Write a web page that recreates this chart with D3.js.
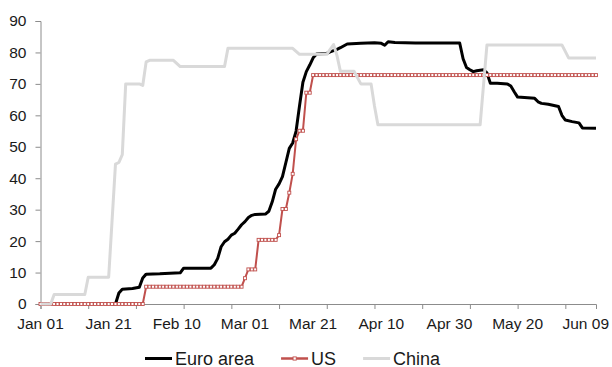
<!DOCTYPE html>
<html>
<head>
<meta charset="utf-8">
<script src="https://cdn.jsdelivr.net/npm/d3@7"></script>
<style>
  body { margin: 0; background: #fff; }
  svg { display: block; font-family: "Liberation Sans", Arial, sans-serif; }
  .tick-label { font-size: 15.5px; fill: #1a1a1a; }
  .legend-text { font-size: 18px; fill: #1a1a1a; }
</style>
</head>
<body>
<div id="chart"></div>
<script>
// values, dates are 2020 (MM-DD)
const euroArea = [
  ["01-22", 0], ["01-23", 0], ["01-24", 3.5], ["01-25", 4.7], ["01-28", 4.9], ["01-30", 5.3],
  ["01-31", 8.3], ["02-01", 9.5], ["02-05", 9.6], ["02-11", 9.9], ["02-12", 11.4], ["02-20", 11.4],
  ["02-21", 12.5], ["02-22", 14.5], ["02-23", 18.2], ["02-24", 19.8], ["02-25", 20.6], ["02-26", 21.9],
  ["02-27", 22.5], ["02-28", 23.8], ["02-29", 25.2], ["03-01", 26.2], ["03-02", 27.5], ["03-03", 28.2],
  ["03-04", 28.5], ["03-07", 28.6], ["03-08", 29.5], ["03-09", 32.5], ["03-10", 36.5], ["03-11", 38.2],
  ["03-12", 40.5], ["03-13", 45], ["03-14", 49.5], ["03-15", 51.2], ["03-16", 55], ["03-17", 63],
  ["03-18", 70.5], ["03-19", 73.9], ["03-20", 76], ["03-21", 78.3], ["03-22", 79.5], ["03-25", 79.7],
  ["03-26", 80.2], ["03-28", 81], ["03-29", 81.5], ["03-31", 82.7], ["04-04", 82.9], ["04-08", 83.1],
  ["04-10", 82.9], ["04-11", 82.3], ["04-12", 83.4], ["04-14", 83.2], ["04-20", 83], ["05-03", 83],
  ["05-04", 78], ["05-05", 75.2], ["05-06", 74.5], ["05-07", 73.9], ["05-08", 74.2], ["05-10", 74.5],
  ["05-11", 73.5], ["05-12", 70.2], ["05-14", 70.2], ["05-17", 70], ["05-18", 69.3], ["05-19", 67.5],
  ["05-20", 65.8], ["05-23", 65.6], ["05-25", 65.4], ["05-26", 64.3], ["05-27", 63.8], ["05-29", 63.5],
  ["06-01", 62.8], ["06-02", 60], ["06-03", 58.5], ["06-05", 58], ["06-07", 57.6], ["06-08", 56],
  ["06-12", 55.9]
];

const china = [
  ["01-01", 0], ["01-04", 0], ["01-05", 3], ["01-14", 3], ["01-15", 8.5], ["01-21", 8.5],
  ["01-23", 44.5], ["01-24", 45], ["01-25", 47.5], ["01-26", 70], ["01-30", 70], ["01-31", 69.5],
  ["02-01", 77], ["02-02", 77.5], ["02-09", 77.5], ["02-11", 75.5], ["02-24", 75.5], ["02-25", 81.3],
  ["03-15", 81.3], ["03-17", 79.4], ["03-25", 79.4], ["03-26", 81], ["03-27", 82.5], ["03-28", 79],
  ["03-29", 74], ["04-02", 74], ["04-03", 72], ["04-04", 70], ["04-07", 70], ["04-08", 63],
  ["04-09", 57], ["05-09", 57], ["05-11", 82.4], ["06-02", 82.4], ["06-04", 78.2], ["06-12", 78.2]
];

// US is a daily step series: value held from first to last date
const usSteps = [
  ["01-01", "01-31", 0], ["02-01", "02-28", 5.5], ["02-29", "02-29", 5.5], ["03-01", "03-01", 8.2],
  ["03-02", "03-04", 11], ["03-05", "03-10", 20.4], ["03-11", "03-11", 21.9], ["03-12", "03-13", 30.2],
  ["03-14", "03-14", 35.4], ["03-15", "03-15", 41.4], ["03-16", "03-16", 52.4], ["03-17", "03-18", 55.1],
  ["03-19", "03-20", 67.2], ["03-21", "06-12", 72.8]
];

const xLabels = ["01-01", "01-21", "02-10", "03-01", "03-21", "04-10", "04-30", "05-20", "06-09"];
const yTicks = [0, 10, 20, 30, 40, 50, 60, 70, 80, 90];
const seriesNames = ["Euro area", "US", "China"];
const seriesColors = { "Euro area": "#000000", "US": "#c0504d", "China": "#d9d9d9" };

const parseDay = d3.timeParse("%Y-%m-%d");
const toDate = s => parseDay("2020-" + s);

const euroData = euroArea.map(([d, v]) => ({ date: toDate(d), value: v }));
const chinaData = china.map(([d, v]) => ({ date: toDate(d), value: v }));
const usData = [];
usSteps.forEach(([a, b, v]) => {
  d3.timeDay.range(toDate(a), d3.timeDay.offset(toDate(b), 1)).forEach(dt => usData.push({ date: dt, value: v }));
});

const W = 612, H = 367;
const svg = d3.select("#chart").append("svg")
  .attr("width", W)
  .attr("height", H);

const x = d3.scaleTime()
  .domain([toDate("01-01"), toDate("06-12")])
  .range([40.5, 596]);
const y = d3.scaleLinear().domain([0, 90]).range([304, 21]);

// y axis
const yAxis = svg.append("g")
  .attr("transform", "translate(40.5,0)")
  .call(d3.axisLeft(y).tickValues(yTicks).tickSize(5).tickPadding(9));
yAxis.select(".domain").attr("stroke", "#8c8c8c");
yAxis.selectAll(".tick line").attr("stroke", "#8c8c8c");
yAxis.selectAll("text").attr("class", "tick-label").attr("font-family", null).attr("font-size", null);

// x axis: tick marks every 14 days, labels every 20 days
const tickDates = d3.timeDay.range(toDate("01-01"), toDate("06-12"), 14);
const xAxis = svg.append("g")
  .attr("transform", "translate(0,304)")
  .call(d3.axisBottom(x).tickValues(tickDates).tickSize(5).tickFormat(""));
xAxis.select(".domain").attr("stroke", "#8c8c8c");
xAxis.selectAll(".tick line").attr("stroke", "#8c8c8c");

const fmt = d3.timeFormat("%b %d");
svg.append("g")
  .selectAll("text")
  .data(xLabels)
  .join("text")
  .attr("class", "tick-label")
  .attr("x", d => x(toDate(d)))
  .attr("y", 329)
  .attr("text-anchor", "middle")
  .text(d => fmt(toDate(d)));

const line = d3.line()
  .x(d => x(d.date))
  .y(d => y(d.value));

svg.append("path")
  .datum(euroData)
  .attr("fill", "none")
  .attr("stroke", seriesColors["Euro area"])
  .attr("stroke-width", 3)
  .attr("stroke-linejoin", "round")
  .attr("d", line);

svg.append("path")
  .datum(usData)
  .attr("fill", "none")
  .attr("stroke", seriesColors["US"])
  .attr("stroke-width", 2)
  .attr("d", line);

svg.append("g")
  .selectAll("rect")
  .data(usData)
  .join("rect")
  .attr("x", d => x(d.date) - 1.5)
  .attr("y", d => y(d.value) - 1.5)
  .attr("width", 3)
  .attr("height", 3)
  .attr("fill", "#fff")
  .attr("stroke", seriesColors["US"])
  .attr("stroke-width", 0.9);

svg.append("path")
  .datum(chinaData)
  .attr("fill", "none")
  .attr("stroke", seriesColors["China"])
  .attr("stroke-width", 3)
  .attr("stroke-linejoin", "round")
  .attr("d", line);

// legend
const legend = svg.append("g").attr("transform", "translate(145,358.5)");
let lx = 0;
seriesNames.forEach(name => {
  const g = legend.append("g").attr("transform", `translate(${lx},0)`);
  g.append("line")
    .attr("x1", 0).attr("x2", 27)
    .attr("stroke", seriesColors[name])
    .attr("stroke-width", name === "US" ? 2.5 : 3);
  if (name === "US") {
    g.append("rect")
      .attr("x", 12).attr("y", -1.6)
      .attr("width", 3.2).attr("height", 3.2)
      .attr("fill", "#fff")
      .attr("stroke", seriesColors[name])
      .attr("stroke-width", 0.9);
  }
  const t = g.append("text")
    .attr("class", "legend-text")
    .attr("x", 30)
    .attr("y", 6)
    .text(name);
  lx += 30 + t.node().getComputedTextLength() + 27;
});
</script>
</body>
</html>
